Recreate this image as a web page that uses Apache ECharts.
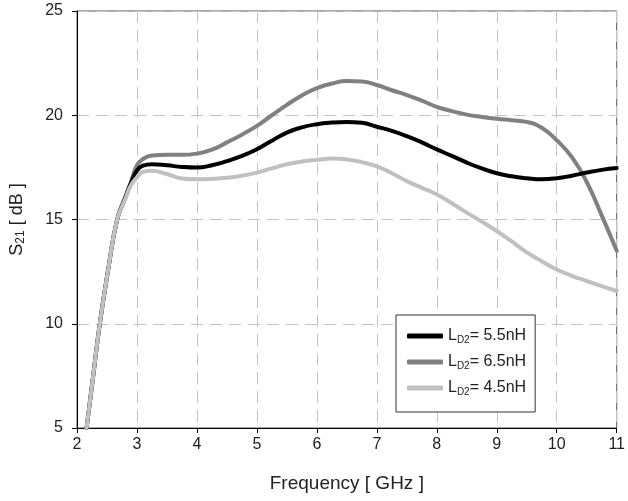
<!DOCTYPE html>
<html>
<head>
<meta charset="utf-8">
<script src="https://cdn.jsdelivr.net/npm/echarts@6/dist/echarts.min.js"></script>
<style>html,body{margin:0;padding:0;background:#fff}#c{width:628px;height:501px}</style>
</head>
<body>
<div id="c"></div>
<script>
var freq = [2.16, 2.27, 2.38, 2.52, 2.67, 2.8, 2.9, 3.0, 3.1, 3.25, 3.5, 3.75, 4.0, 4.25, 4.5, 4.75, 5.0, 5.25, 5.5, 5.75, 6.0, 6.25, 6.5, 6.75, 7.0, 7.25, 7.5, 7.75, 8.0, 8.25, 8.5, 8.75, 9.0, 9.25, 9.5, 9.75, 10.0, 10.25, 10.5, 10.75, 11.0];
var s21_55 = [5.0, 7.5, 10.0, 12.6, 15.0, 16.0, 16.75, 17.35, 17.58, 17.65, 17.6, 17.52, 17.49, 17.6, 17.8, 18.05, 18.37, 18.78, 19.17, 19.42, 19.57, 19.65, 19.68, 19.64, 19.45, 19.25, 19.0, 18.7, 18.36, 18.05, 17.73, 17.45, 17.22, 17.07, 16.98, 16.93, 16.98, 17.1, 17.25, 17.38, 17.47];
var s21_65 = [5.0, 7.5, 10.0, 12.6, 15.0, 16.05, 16.8, 17.6, 17.9, 18.07, 18.1, 18.1, 18.16, 18.35, 18.7, 19.07, 19.49, 20.0, 20.5, 20.95, 21.3, 21.52, 21.64, 21.62, 21.45, 21.2, 20.97, 20.7, 20.4, 20.2, 20.03, 19.92, 19.83, 19.76, 19.68, 19.4, 18.8, 18.0, 16.8, 15.2, 13.5];
var s21_45 = [5.0, 7.5, 10.0, 12.6, 15.0, 15.95, 16.65, 17.02, 17.28, 17.34, 17.18, 16.97, 16.93, 16.95, 17.0, 17.1, 17.25, 17.45, 17.65, 17.78, 17.86, 17.92, 17.88, 17.75, 17.55, 17.22, 16.84, 16.52, 16.2, 15.78, 15.33, 14.9, 14.45, 13.95, 13.42, 13.0, 12.6, 12.3, 12.05, 11.8, 11.57];
var seriesNames = ['LD2= 5.5nH', 'LD2= 6.5nH', 'LD2= 4.5nH'];
var xTicks = [2, 3, 4, 5, 6, 7, 8, 9, 10, 11];
var yTicks = [5, 10, 15, 20, 25];

function zip(xs, ys) { return xs.map(function (x, i) { return [x, ys[i]]; }); }
var FONT = "'Liberation Sans', Arial, sans-serif";

var chart = echarts.init(document.getElementById('c'), null, {renderer: 'canvas'});
var gridLine = {show: true, lineStyle: {color: '#c4c4c4', type: [12, 7], width: 1}};
chart.setOption({
  animation: false,
  backgroundColor: '#fff',
  grid: {left: 77, right: 6, top: 11, bottom: 73, show: true, borderColor: '#555', borderWidth: 1, backgroundColor: 'transparent'},
  xAxis: {
    type: 'value', min: xTicks[0], max: xTicks[xTicks.length - 1], interval: 1,
    name: 'Frequency [ GHz ]', nameLocation: 'middle', nameGap: 46,
    nameTextStyle: {fontFamily: FONT, fontSize: 19, color: '#222'},
    axisLine: {show: true, onZero: false, lineStyle: {color: '#000', width: 1}},
    axisTick: {show: true, inside: false, length: 5, lineStyle: {color: '#000'}},
    axisLabel: {fontFamily: FONT, fontSize: 16, color: '#222', margin: 9},
    splitLine: gridLine
  },
  yAxis: {
    type: 'value', min: yTicks[0], max: yTicks[yTicks.length - 1], interval: 5,
    name: '{a|S}{s|21}{a| [ dB ]}', nameLocation: 'middle', nameGap: 50, nameRotate: 90,
    nameTextStyle: {fontFamily: FONT, fontSize: 18, color: '#222',
      rich: {a: {fontFamily: FONT, fontSize: 18, color: '#222'}, s: {fontFamily: FONT, fontSize: 12, color: '#222', verticalAlign: 'bottom', padding: [8, 0, 0, 0]}}},
    axisLine: {show: true, onZero: false, lineStyle: {color: '#000', width: 1}},
    axisTick: {show: true, inside: false, length: 5, lineStyle: {color: '#000'}},
    axisLabel: {fontFamily: FONT, fontSize: 16, color: '#222', margin: 14},
    splitLine: gridLine
  },
  legend: {
    show: true, orient: 'vertical', left: 396, top: 315,
    data: [seriesNames[0], seriesNames[1], seriesNames[2]],
    backgroundColor: '#fff', borderColor: '#333', borderWidth: 1,
    padding: [13, 9, 15, 11], itemGap: 9, itemWidth: 36, itemHeight: 5,
    icon: 'roundRect',
    formatter: function (n) { return '{a|L}{s|D2}{a|' + n.slice(3) + '}'; },
    textStyle: {fontFamily: FONT, fontSize: 16, color: '#222',
      rich: {a: {fontFamily: FONT, fontSize: 16, color: '#222'}, s: {fontFamily: FONT, fontSize: 10, color: '#222', padding: [8, 0, 0, 0]}}}
  },
  series: [
    {name: seriesNames[1], type: 'line', data: zip(freq, s21_65), smooth: 0.5, showSymbol: false, symbol: 'none',
      lineStyle: {color: '#808080', width: 4, cap: 'round', join: 'round'}, itemStyle: {color: '#808080'}, z: 2},
    {name: seriesNames[0], type: 'line', data: zip(freq, s21_55), smooth: 0.5, showSymbol: false, symbol: 'none',
      lineStyle: {color: '#000000', width: 4, cap: 'round', join: 'round'}, itemStyle: {color: '#000000'}, z: 3},
    {name: seriesNames[2], type: 'line', data: zip(freq, s21_45), smooth: 0.5, showSymbol: false, symbol: 'none',
      lineStyle: {color: '#c0c0c0', width: 4, cap: 'round', join: 'round'}, itemStyle: {color: '#c0c0c0'}, z: 4}
  ]
});
</script>
</body>
</html>
